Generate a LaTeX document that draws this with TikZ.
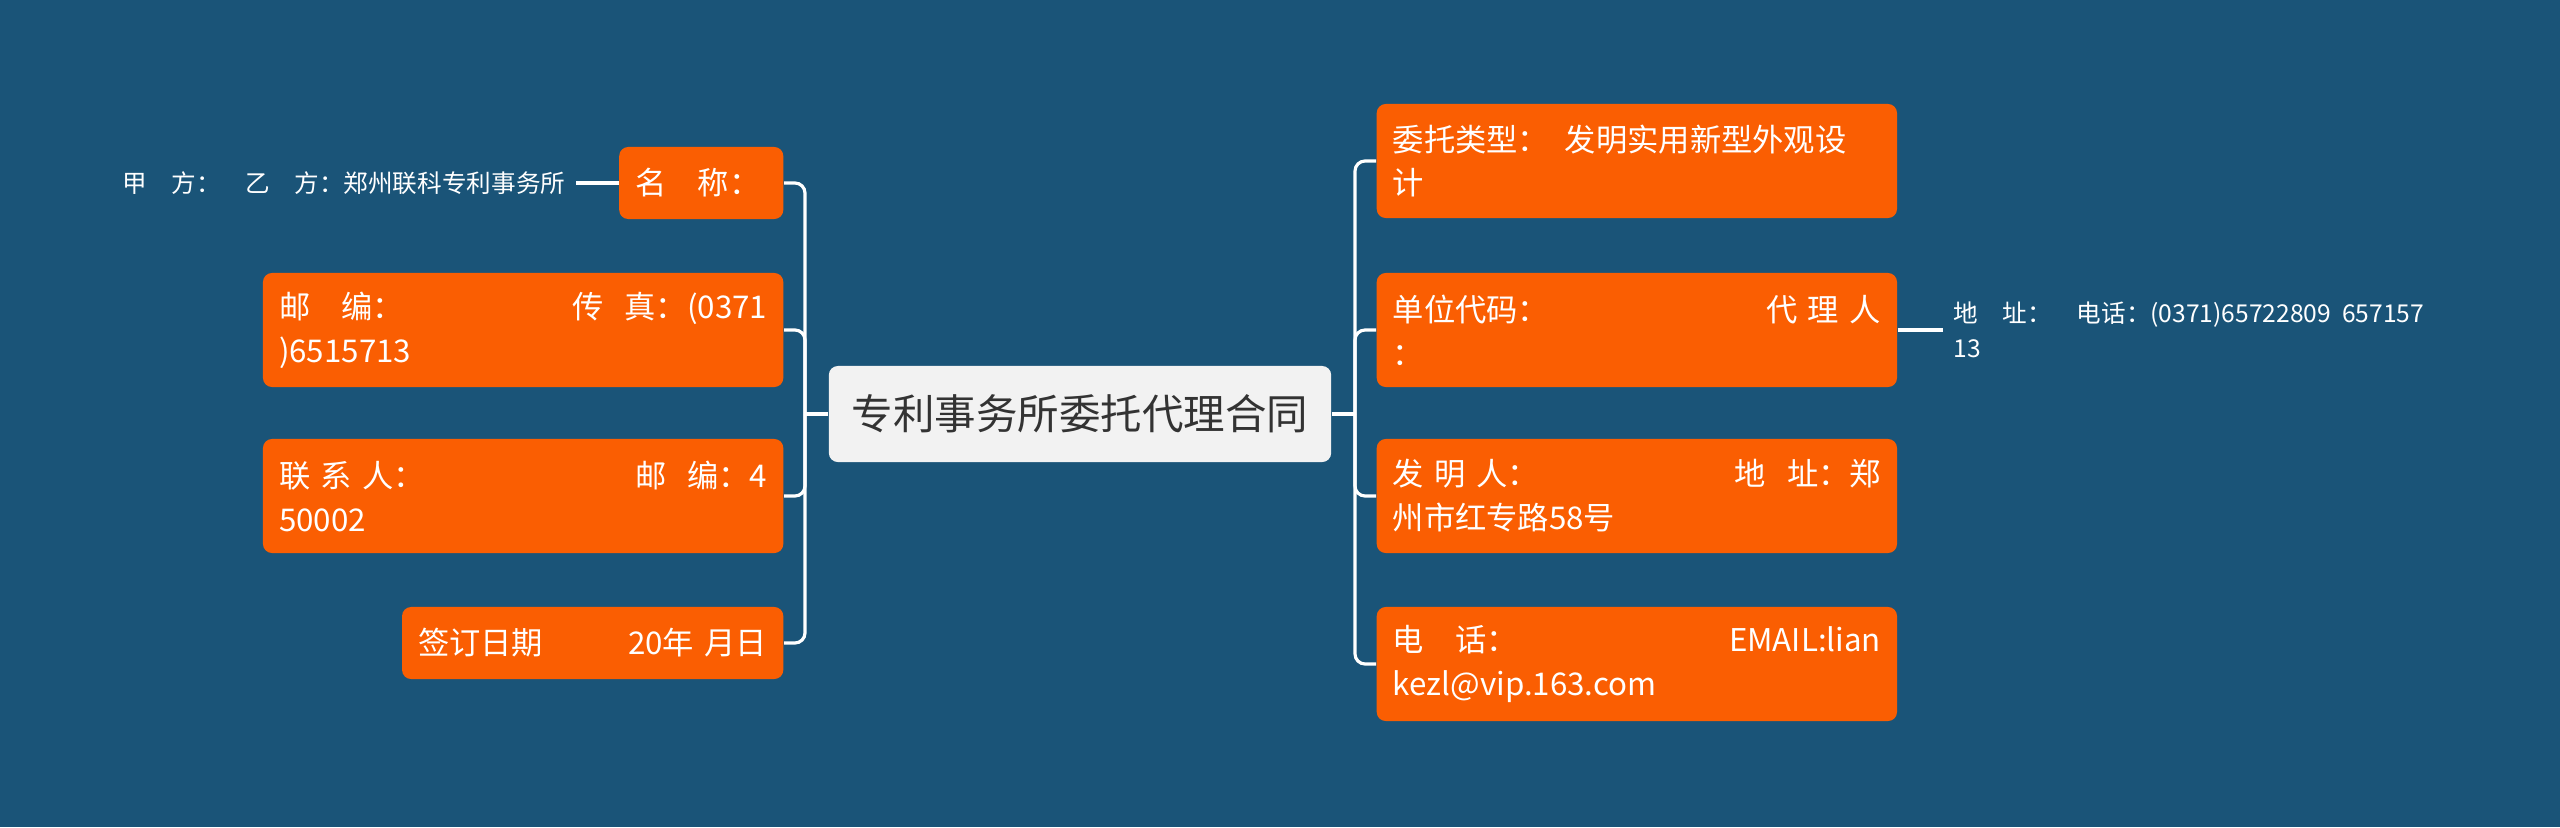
\documentclass[tikz,border=0pt]{standalone}
\usepackage{fontspec}
\setmainfont{Noto Sans CJK SC}
\usepackage{xcolor}
\definecolor{ColBg}{RGB}{26,84,120}
\definecolor{ColBox}{RGB}{250,94,2}
\definecolor{ColCtr}{RGB}{242,242,242}
\definecolor{ColTxt}{RGB}{51,51,51}
\usepackage{tikz}
\newcommand{\Gap}{\hskip 0pt plus 1filll}
\tikzstyle{Topic}=[rectangle,rounded corners=0.09cm,fill=ColBox,text=white,
font=\fontsize{8.9pt}{12.5pt}\selectfont,align=left,inner xsep=0.16cm,
inner ysep=0pt,minimum height=1.14cm]
\tikzstyle{Root}=[rectangle,rounded corners=0.09cm,fill=ColCtr,text=ColTxt,
font=\fontsize{11.8pt}{14pt}\selectfont,minimum width=5.02cm,minimum height=0.96cm]
\tikzstyle{Note}=[text=white,font=\fontsize{7pt}{10pt}\selectfont,align=left,
inner xsep=0.1cm,inner ysep=0pt]
\tikzstyle{Edge}=[draw=white,line width=0.9pt,rounded corners=0.1cm]

\begin{document}
\begin{tikzpicture}[x=0.01cm,y=-0.01cm]
        \fill[ColBg](0,0)rectangle(2560,827);
        \useasboundingbox(0,0)rectangle(2560,827);
        \node[Root](ctr)at(1080,414){专利事务所委托代理合同};
        \coordinate(spL)at(805,414);
        \coordinate(spR)at(1355,414);
        % left side
        \node[Topic,anchor=east,text width=1.32cm,minimum height=0.72cm](nm)at(784,183){名\quad 称：};
        \node[Topic,anchor=east,text width=4.88cm](fax)at(784,330){邮\quad 编：\Gap 传\ \ 真：(0371\\)6515713};
        \node[Topic,anchor=east,text width=4.88cm](ctc)at(784,496){联 系 人：\Gap 邮\ \ 编：4\\50002};
        \node[Topic,anchor=east,text width=3.49cm,minimum height=0.72cm](date)at(784,643){签订日期\Gap 20年\ 月日};
        \node[Note,anchor=east](jia)at(576,183){甲\quad 方：\quad 乙\quad 方：郑州联科专利事务所};
        % right side
        \node[Topic,anchor=west,text width=4.88cm](typ)at(1376,161){委托类型：\enspace 发明实用新型外观设\\计};
        \node[Topic,anchor=west,text width=4.88cm](code)at(1376,330){单位代码：\Gap 代 理 人\\：};
        \node[Topic,anchor=west,text width=4.88cm](inv)at(1376,496){发 明 人：\Gap 地\ \ 址：郑\\州市红专路58号};
        \node[Topic,anchor=west,text width=4.88cm](tel)at(1376,664){电\quad 话：\Gap EMAIL:lian\\kezl@vip.163.com};
        \node[Note,anchor=west](addr)at(1943,330){地\quad 址：\quad 电话：(0371)65722809\ \ 657157\\13};
        % edges
        \draw[Edge](ctr.west)--(spL);
        \draw[Edge](spL)|-(nm.east);
        \draw[Edge](spL)|-(fax.east);
        \draw[Edge](spL)|-(ctc.east);
        \draw[Edge](spL)|-(date.east);
        \draw[Edge](ctr.east)--(spR);
        \draw[Edge](spR)|-(typ.west);
        \draw[Edge](spR)|-(code.west);
        \draw[Edge](spR)|-(inv.west);
        \draw[Edge](spR)|-(tel.west);
        \draw[Edge](nm.west)--(jia.east);
        \draw[Edge](code.east)--(code.east-|addr.west);
    \end{tikzpicture}
\end{document}
